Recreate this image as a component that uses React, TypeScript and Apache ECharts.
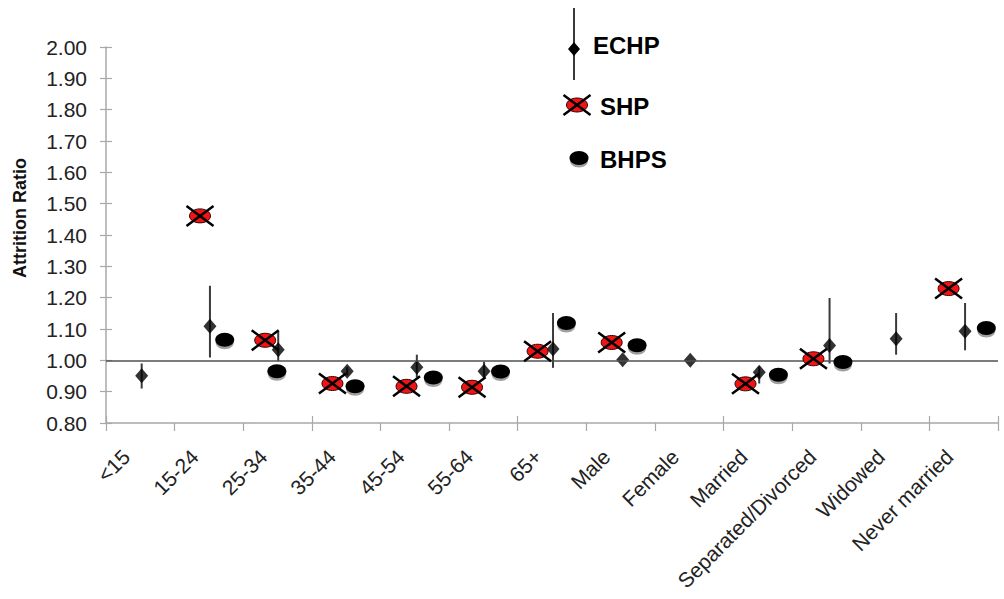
import React, { useEffect, useRef } from 'react';
import * as echarts from 'echarts';

const categories = ['<15', '15-24', '25-34', '35-44', '45-54', '55-64', '65+', 'Male', 'Female', 'Married', 'Separated/Divorced', 'Widowed', 'Never married'];

const echpValues = [0.951, 1.109, 1.034, 0.965, 0.978, 0.965, 1.036, 1.002, 1.0, 0.962, 1.047, 1.069, 1.093];
const echpLow = [0.91, 1.009, 0.997, 0.952, 0.945, 0.945, 0.976, null, null, 0.926, 0.99, 1.018, 1.032];
const echpHigh = [0.99, 1.238, 1.093, 0.978, 1.018, 0.995, 1.151, null, null, 0.98, 1.199, 1.151, 1.183];
const shpValues = [null, 1.461, 1.064, 0.926, 0.917, 0.914, 1.029, 1.057, null, 0.925, 1.005, null, 1.229];
const bhpsValues = [null, 1.066, 0.965, 0.917, 0.945, 0.964, 1.119, 1.048, null, 0.954, 0.995, null, 1.103];

const yMin = 0.8;
const yMax = 2.0;
const yStep = 0.1;
const yTitle = 'Attrition Ratio';

// layout only: horizontal placement of the markers inside a category (fraction of category width)
const echpShift = [0.02, 0.015, 0.01, 0.015, 0.03, 0.01, 0.015, 0.03, 0.015, 0.02, 0.045, 0.015, 0.02];
const shpShift = [0, -0.13, -0.18, -0.2, -0.12, -0.165, -0.21, -0.13, 0, -0.18, -0.19, 0, -0.22];
const bhpsShift = [0, 0.23, -0.01, 0.13, 0.27, 0.25, 0.21, 0.24, 0, 0.3, 0.24, 0, 0.33];

const FONT = '"Liberation Sans", Arial, Helvetica, sans-serif';
const RED = '#f01414';

function shpShape(cx: number, cy: number) {
  return [
    { type: 'ellipse', shape: { cx, cy, rx: 10.5, ry: 7 }, style: { fill: RED, stroke: '#300', lineWidth: 1 } },
    { type: 'line', shape: { x1: cx - 13.5, y1: cy + 10, x2: cx + 13.5, y2: cy - 10 }, style: { stroke: '#000', lineWidth: 2.5 } },
    { type: 'line', shape: { x1: cx - 13.5, y1: cy - 10, x2: cx + 13.5, y2: cy + 10 }, style: { stroke: '#000', lineWidth: 2.5 } },
  ];
}

function bhpsShape(cx: number, cy: number) {
  return [
    { type: 'ellipse', shape: { cx, cy: cy + 3, rx: 9, ry: 6.5 }, style: { fill: '#a0a0a0' } },
    { type: 'ellipse', shape: { cx, cy, rx: 9.5, ry: 7 }, style: { fill: '#000' } },
  ];
}

export default function App() {
  const ref = useRef<HTMLDivElement>(null);

  useEffect(() => {
    if (!ref.current) return;
    const chart = echarts.init(ref.current, null, { renderer: 'svg' });

    const echpData = categories.map((_, i) => [i + echpShift[i], echpValues[i]]);
    const errData = categories
      .map((_, i) => (echpLow[i] == null ? null : [i + echpShift[i], echpLow[i], echpHigh[i]]))
      .filter((d) => d !== null);
    const shpData = categories
      .map((_, i) => (shpValues[i] == null ? null : [i + shpShift[i], shpValues[i]]))
      .filter((d) => d !== null);
    const bhpsData = categories
      .map((_, i) => (bhpsValues[i] == null ? null : [i + bhpsShift[i], bhpsValues[i]]))
      .filter((d) => d !== null);

    const axisGray = '#a8a8a8';

    const option: any = {
      animation: false,
      backgroundColor: '#ffffff',
      grid: { left: 106, right: 6, top: 47, bottom: 176, containLabel: false, outerBoundsMode: 'none' },
      xAxis: [
        {
          type: 'category',
          data: categories,
          boundaryGap: true,
          axisLine: { onZero: false, lineStyle: { color: axisGray, width: 1.5 } },
          axisTick: { show: true, length: 8, lineStyle: { color: axisGray, width: 1.2 } },
          axisLabel: {
            rotate: 45,
            interval: 0,
            margin: 16,
            padding: [0, 20, 0, 0],
            fontSize: 21,
            fontFamily: FONT,
            color: '#222',
          },
          splitLine: { show: false },
        },
        {
          type: 'value',
          min: -0.5,
          max: categories.length - 0.5,
          show: false,
        },
        {
          type: 'category',
          data: categories,
          boundaryGap: true,
          axisLine: { show: false, onZero: false },
          axisTick: { show: true, inside: true, length: 7, lineStyle: { color: axisGray, width: 1.2 } },
          axisLabel: { show: false },
          position: 'bottom',
        },
      ],
      yAxis: [
        {
          type: 'value',
          min: yMin,
          max: yMax,
          interval: yStep,
          axisLine: { show: true, onZero: false, lineStyle: { color: axisGray, width: 1.5 } },
          axisTick: { show: true, length: 6, lineStyle: { color: axisGray, width: 1.2 } },
          axisLabel: {
            margin: 19,
            fontSize: 21,
            fontFamily: FONT,
            color: '#222',
            formatter: (v: number) => v.toFixed(2),
          },
          splitLine: { show: false },
        },
        {
          type: 'value',
          min: yMin,
          max: yMax,
          interval: yStep,
          position: 'left',
          axisLine: { show: false, onZero: false },
          axisTick: { show: true, inside: true, length: 6, lineStyle: { color: axisGray, width: 1.2 } },
          axisLabel: { show: false },
          splitLine: { show: false },
        },
      ],
      series: [
        {
          name: 'ECHP range',
          type: 'custom',
          xAxisIndex: 1,
          yAxisIndex: 0,
          encode: { x: 0, y: [1, 2] },
          data: errData,
          renderItem: (params: any, api: any) => {
            const lo = api.coord([api.value(0), api.value(1)]);
            const hi = api.coord([api.value(0), api.value(2)]);
            return {
              type: 'line',
              shape: { x1: lo[0], y1: lo[1], x2: hi[0], y2: hi[1] },
              style: { stroke: '#3a3a3a', lineWidth: 2 },
            };
          },
          z: 2,
        },
        {
          name: 'ECHP',
          type: 'scatter',
          xAxisIndex: 1,
          yAxisIndex: 0,
          symbol: 'diamond',
          symbolSize: [13, 15],
          itemStyle: { color: '#000' },
          data: echpData,
          z: 4,
          markLine: {
            silent: true,
            symbol: 'none',
            label: { show: false },
            lineStyle: { color: '#505050', width: 1.5, type: 'solid' },
            data: [{ yAxis: 1 }],
          },
        },
        {
          name: 'SHP',
          type: 'custom',
          xAxisIndex: 1,
          yAxisIndex: 0,
          encode: { x: 0, y: 1 },
          data: shpData,
          renderItem: (params: any, api: any) => {
            const p = api.coord([api.value(0), api.value(1)]);
            return { type: 'group', children: shpShape(p[0], p[1]) };
          },
          z: 5,
        },
        {
          name: 'BHPS',
          type: 'custom',
          xAxisIndex: 1,
          yAxisIndex: 0,
          encode: { x: 0, y: 1 },
          data: bhpsData,
          renderItem: (params: any, api: any) => {
            const p = api.coord([api.value(0), api.value(1)]);
            return { type: 'group', children: bhpsShape(p[0], p[1]) };
          },
          z: 5,
        },
      ],
      graphic: [
        {
          type: 'text',
          x: 20,
          y: 218,
          rotation: Math.PI / 2,
          style: { text: yTitle, font: `bold 18px ${FONT}`, fill: '#111', textAlign: 'center', textVerticalAlign: 'middle' },
        },
        { type: 'line', shape: { x1: 574, y1: 8, x2: 574, y2: 80 }, style: { stroke: '#3a3a3a', lineWidth: 2 } },
        { type: 'polygon', shape: { points: [[574, 42], [580, 49], [574, 56], [568, 49]] }, style: { fill: '#000' } },
        { type: 'text', x: 593, y: 45, style: { text: 'ECHP', font: `bold 24px ${FONT}`, fill: '#000', textVerticalAlign: 'middle' } },
        { type: 'group', children: shpShape(577, 105) },
        { type: 'text', x: 600, y: 106, style: { text: 'SHP', font: `bold 24px ${FONT}`, fill: '#000', textVerticalAlign: 'middle' } },
        { type: 'group', children: bhpsShape(579, 158) },
        { type: 'text', x: 600, y: 159, style: { text: 'BHPS', font: `bold 24px ${FONT}`, fill: '#000', textVerticalAlign: 'middle' } },
      ],
    };

    chart.setOption(option);
    return () => chart.dispose();
  }, []);

  return (
    <div
      ref={ref}
      style={{ position: 'fixed', left: 0, top: 0, width: 1004, height: 599, background: '#fff' }}
    />
  );
}
